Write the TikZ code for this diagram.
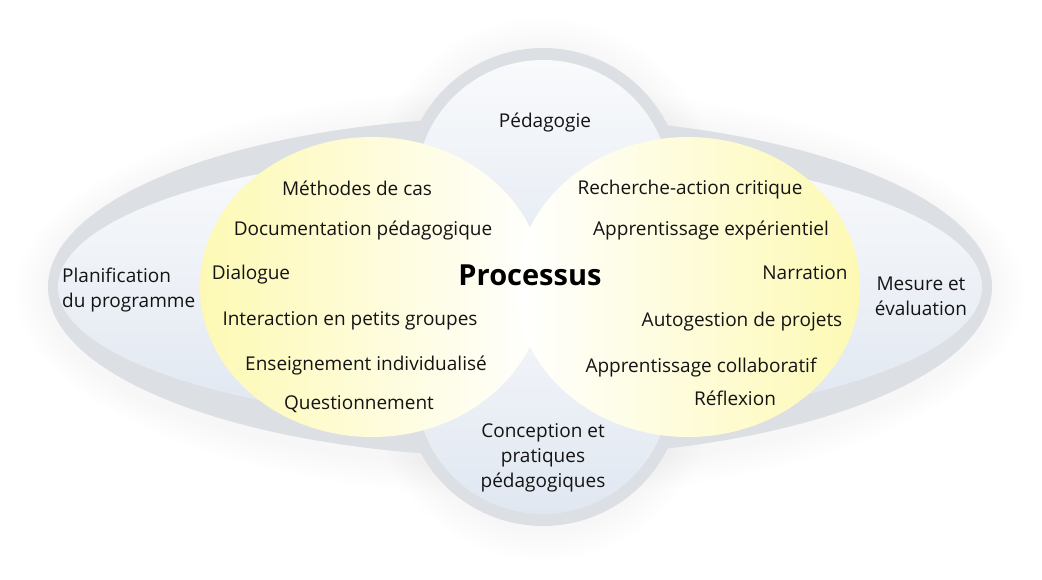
\documentclass[tikz,border=0pt]{standalone}
\usepackage{fontspec}
\setmainfont{Open Sans}
\usetikzlibrary{calc}
\usetikzlibrary{positioning}

\definecolor{ringgray}{HTML}{DCDFE3}
\definecolor{innertop}{HTML}{F9FAFC}
\definecolor{innerbot}{HTML}{E0E7F1}
\definecolor{glowblue}{HTML}{C4CDD9}
\definecolor{ylw}{HTML}{FDF9B4}

\begin{document}
\begin{tikzpicture}[x=1pt,y=-1pt,
    lbl/.style={font=\fontsize{19}{25}\selectfont, text=black!92, inner sep=0pt, align=center},
    big/.style={font=\bfseries\fontsize{29}{32}\selectfont, inner sep=0pt},
    inner/.style={top color=innertop, bottom color=innerbot}]
    \useasboundingbox (0,0) rectangle (1042,579);
    \fill[white] (0,0) rectangle (1042,579);

    % soft glow round the shapes
    \foreach \g in {1,...,8}{
        \fill[glowblue, opacity=0.013] (520,292) ellipse [x radius={472pt+\g*4pt}, y radius={172pt+\g*4pt}];
        \fill[glowblue, opacity=0.013] (543,189) circle [radius={139pt+\g*4pt}];
        \fill[glowblue, opacity=0.013] (543,389) circle [radius={139pt+\g*4pt}];
    }

    % rings
    \fill[ringgray] (520,287) ellipse [x radius=472pt, y radius=170pt];
    \fill[ringgray] (543,187) circle [radius=139pt];
    \fill[ringgray] (543,387) circle [radius=139pt];

    % inner faces
    \shade[inner] (520,287) ellipse [x radius=462pt, y radius=137pt];
    \shade[inner] (543,187) circle [radius=127pt];
    \shade[inner] (543,387) circle [radius=127pt];

    % the two yellow lobes
    \shade[left color=ylw, middle color=ylw!45!white, right color=white] (372,287) ellipse [x radius=172pt, y radius=150pt];
    \shade[left color=white, middle color=ylw!45!white, right color=ylw] (688,287) ellipse [x radius=172pt, y radius=150pt];

    \node[big] (proc) at (530,275) {Processus};

    \node[lbl] (ped) at (545,123) {Pédagogie};
    \node[lbl] (conc) at (543,458) {Conception et\\pratiques\\pédagogiques};
    \node[lbl, anchor=west, align=left] (plan) at (62,290) {Planification\\du programme};
    \node[lbl] (mes) at (921,296) {Mesure et\\évaluation};

    % left lobe
    \node[lbl] (meth) at (357,188) {Méthodes de cas};
    \node[lbl] (doc) at (363,230) {Documentation pédagogique};
    \node[lbl] (dial) at (251,275) {Dialogue};
    \node[lbl] (inter) at (350,321) {Interaction en petits groupes};
    \node[lbl] (ens) at (366,365) {Enseignement individualisé};
    \node[lbl] (quest) at (359,404) {Questionnement};

    % right lobe
    \node[lbl] (rech) at (690,190) {Recherche-action critique};
    \node[lbl] (expe) at (711,230) {Apprentissage expérientiel};
    \node[lbl] (narr) at (805,273) {Narration};
    \node[lbl] (auto) at (742,322) {Autogestion de projets};
    \node[lbl] (coll) at (701,368) {Apprentissage collaboratif};
    \node[lbl] (refl) at (735,398) {Réflexion};
\end{tikzpicture}
\end{document}
